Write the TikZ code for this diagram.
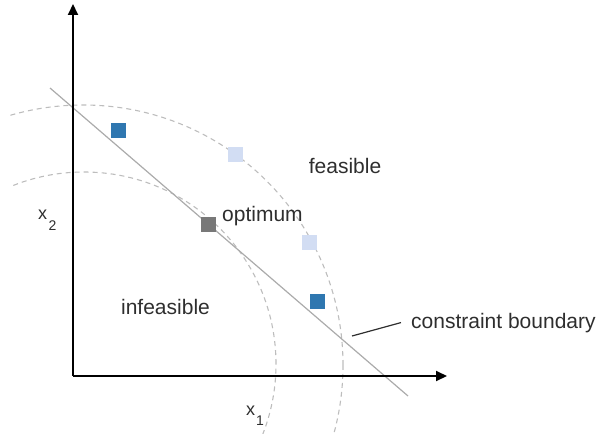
\documentclass[tikz,border=0pt]{standalone}
\usepackage{fontspec}
\setmainfont{Liberation Sans}
\usetikzlibrary{arrows.meta}
\definecolor{deepblue}{HTML}{2F77B0}
\definecolor{paleblue}{HTML}{D2DDF3}
\definecolor{optgray}{HTML}{787878}
\definecolor{txtgray}{HTML}{2E2E2E}
\tikzset{
  axis/.style={line width=2pt, -{Triangle[length=11pt,width=10pt]}},
  contour/.style={draw=black!26, line width=1.1pt, dash pattern=on 5pt off 4pt},
  boundary/.style={draw=black!33, line width=1.2pt},
  leader/.style={draw=txtgray, line width=1.2pt},
  pt/.style={minimum size=15pt, inner sep=0pt},
  lbl/.style={text=txtgray, font=\fontsize{21}{25}\selectfont, inner sep=0pt},
  axlbl/.style={text=txtgray, font=\fontsize{18}{21}\selectfont, inner sep=0pt, anchor=base west},
}
\newcommand{\subsz}{\fontsize{14}{14}\selectfont}

\begin{document}
\begin{tikzpicture}[x=1pt,y=-1pt]
\useasboundingbox (0,0) rectangle (601,433);
% objective contours
\begin{scope}
\clip (10,0) rectangle (601,433);
\draw[contour] (83,365) circle (260pt);
\draw[contour] (84,364) circle (192pt);
\end{scope}
% constraint boundary
\coordinate (bstart) at (50,88);
\coordinate (bend) at (408,396);
\draw[boundary] (bstart) -- (bend);
% axes
\coordinate (o) at (73,376);
\coordinate (ytip) at (73,4);
\coordinate (xtip) at (447,376);
\draw[axis] (o) -- (ytip);
\draw[axis] (o) -- (xtip);
\node[axlbl] (x2) at (38,219) {x\kern1.5pt\raisebox{-11pt}{\subsz 2}};
\node[axlbl] (x1) at (246,415) {x\kern1pt\raisebox{-10pt}{\subsz 1}};
% candidate points
\node[pt, fill=deepblue] (p1) at (118.5,130) {};
\node[pt, fill=paleblue] (p2) at (235.5,154) {};
\node[pt, fill=optgray] (opt) at (208.5,224) {};
\node[pt, fill=paleblue] (p3) at (309.5,242) {};
\node[pt, fill=deepblue] (p4) at (317.5,301) {};
% labels
\node[lbl, anchor=base] (feas) at (345,173) {feasible};
\node[lbl, anchor=base west] (optlbl) at (222,221) {optimum};
\node[lbl, anchor=base] (infeas) at (165.5,314) {infeasible};
\node[lbl, anchor=base west, inner xsep=10pt] (cblbl) at (401,328) {constraint boundary};
\coordinate (cbfoot) at (352,336);
\draw[leader] (cbfoot) -- (cblbl.west);
\end{tikzpicture}
\end{document}
